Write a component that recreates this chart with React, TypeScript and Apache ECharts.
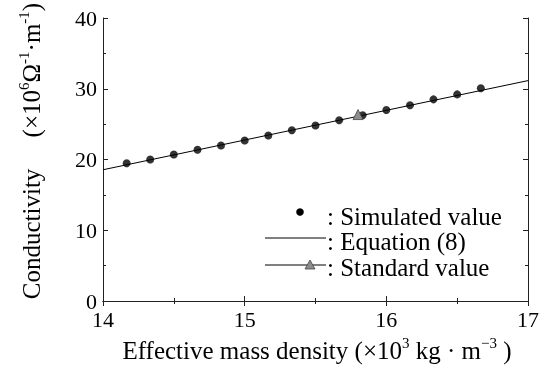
import React, { useEffect, useRef } from "react";
import * as echarts from "echarts";

const xTicks = [14, 15, 16, 17];
const yTicks = [0, 10, 20, 30, 40];
const simX = [14.167, 14.333, 14.5, 14.667, 14.833, 15.0, 15.167, 15.333, 15.5, 15.667, 15.833, 16.0, 16.167, 16.333, 16.5, 16.667];
const simY = [19.48, 20.0, 20.7, 21.37, 21.98, 22.68, 23.39, 24.14, 24.8, 25.55, 26.25, 27.0, 27.66, 28.5, 29.2, 30.06];
const eqX = [14, 17];
const eqY = [18.55, 31.15];
const stdX = [15.8];
const stdY = [26.35];
const seriesNames = ["Simulated value", "Equation (8)", "Standard value"];

const FONT = "serif";

export default function App() {
  const ref = useRef<HTMLDivElement>(null);
  useEffect(() => {
    if (!ref.current) return;
    const chart = echarts.init(ref.current, undefined, { renderer: "svg" });
    const axisLine = { show: true, lineStyle: { color: "#222", width: 1 } };
    const baseX = {
      type: "value",
      min: xTicks[0],
      max: xTicks[xTicks.length - 1],
      interval: 1,
      axisLine,
      axisTick: { show: true, inside: true, length: 5, lineStyle: { color: "#222" } },
      minorTick: { show: true, splitNumber: 2, length: 3, lineStyle: { color: "#222" } },
      splitLine: { show: false },
    };
    const baseY = {
      type: "value",
      min: yTicks[0],
      max: yTicks[yTicks.length - 1],
      interval: 10,
      axisLine,
      axisTick: { show: true, inside: true, length: 5, lineStyle: { color: "#222" } },
      minorTick: { show: true, splitNumber: 2, length: 3, lineStyle: { color: "#222" } },
      splitLine: { show: false },
    };
    const legendText = (name: string, y: number) => ({
      type: "text",
      x: 327,
      y,
      style: {
        text: ": " + name,
        fontFamily: FONT,
        fontSize: 25,
        fill: "#000",
        verticalAlign: "middle",
      },
    });
    const rich = {
      n: { fontFamily: FONT, fontSize: 25, fill: "#000", verticalAlign: "bottom", lineHeight: 27 },
      s: { fontFamily: FONT, fontSize: 15, fill: "#000", verticalAlign: "top", lineHeight: 27 },
    };
    const option: any = {
      animation: false,
      textStyle: { fontFamily: FONT },
      grid: { left: 103, right: 17, top: 18, bottom: 69, containLabel: false },
      xAxis: [
        {
          ...baseX,
          position: "bottom",
          axisLabel: { color: "#000", fontFamily: FONT, fontSize: 22, lineHeight: 16, margin: 10 },
        },
        { ...baseX, position: "top", axisLabel: { show: false } },
      ],
      yAxis: [
        {
          ...baseY,
          position: "left",
          axisLabel: { color: "#000", fontFamily: FONT, fontSize: 22, lineHeight: 16, margin: 6 },
        },
        { ...baseY, position: "right", axisLabel: { show: false } },
      ],
      series: [
        {
          name: seriesNames[1],
          type: "line",
          data: eqX.map((x, i) => [x, eqY[i]]),
          showSymbol: false,
          symbol: "none",
          lineStyle: { color: "#000", width: 1 },
          itemStyle: { color: "#000" },
          z: 2,
        },
        {
          name: seriesNames[0],
          type: "scatter",
          data: simX.map((x, i) => [x, simY[i]]),
          symbol: "circle",
          symbolSize: 8,
          itemStyle: { color: "#000" },
          z: 3,
        },
        {
          name: seriesNames[2],
          type: "line",
          data: stdX.map((x, i) => [x, stdY[i]]),
          symbol: "triangle",
          symbolSize: 10,
          lineStyle: { color: "#000", width: 1 },
          itemStyle: { color: "#8c8c8c", borderColor: "#444", borderWidth: 0.8 },
          z: 4,
        },
      ],
      graphic: [
        { type: "circle", shape: { cx: 300, cy: 212, r: 3.8 }, style: { fill: "#000" } },
        legendText(seriesNames[0], 216),
        { type: "line", shape: { x1: 265, y1: 238, x2: 326, y2: 238 }, style: { stroke: "#000", lineWidth: 1 } },
        legendText(seriesNames[1], 241),
        { type: "line", shape: { x1: 265, y1: 265, x2: 326, y2: 265 }, style: { stroke: "#000", lineWidth: 1 } },
        {
          type: "polygon",
          shape: { points: [[310, 260], [305, 269], [315, 269]] },
          style: { fill: "#8c8c8c", stroke: "#444", lineWidth: 0.8 },
        },
        legendText(seriesNames[2], 267),
        {
          type: "text",
          x: 317,
          y: 349,
          style: {
            text: "{n|Effective mass density (×10}{s|3}{n| kg · m}{s|−3}{n| )}",
            fontFamily: FONT,
            fontSize: 25,
            align: "center",
            verticalAlign: "middle",
            fill: "#000",
            rich,
          },
        },
        {
          type: "text",
          x: 30,
          y: 151,
          rotation: Math.PI / 2,
          style: {
            text: "{n|Conductivity     (×10}{s|6}{n|Ω}{s|-1}{n|·m}{s|-1}{n|)}",
            fontFamily: FONT,
            fontSize: 25,
            align: "center",
            verticalAlign: "middle",
            fill: "#000",
            rich,
          },
        },
      ],
    };
    chart.setOption(option);
    return () => chart.dispose();
  }, []);
  return <div ref={ref} style={{ position: "fixed", left: 0, top: 0, width: 545, height: 370 }} />;
}
